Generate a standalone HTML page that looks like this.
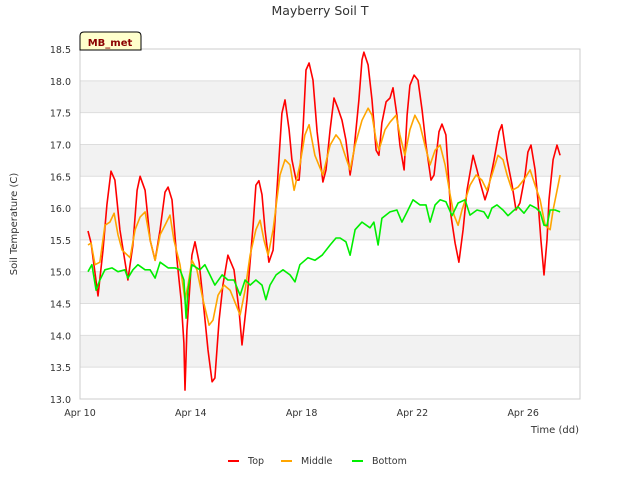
<!DOCTYPE html>
<html><head><meta charset="utf-8"><style>
body{margin:0;background:#fff;font-family:"Liberation Sans","DejaVu Sans",sans-serif}
svg text{font-family:"DejaVu Sans","Liberation Sans",sans-serif}
</style></head><body>
<svg id="chart" width="640" height="480" xmlns="http://www.w3.org/2000/svg">
<rect width="640" height="480" fill="#fff"/>
<text x="320" y="15" text-anchor="middle" font-size="12.5" fill="#333">Mayberry Soil T</text>
<g id="bands"></g><g id="grid"></g>
<rect x="80" y="49" width="500" height="350" fill="none" stroke="#ccc"/>
<g id="yticks"></g><g id="xticks"></g><g id="series"></g>
<text transform="translate(17,224) rotate(-90)" text-anchor="middle" font-size="10" fill="#333">Soil Temperature (C)</text>
<text x="579" y="433" text-anchor="end" font-size="10" fill="#333">Time (dd)</text>
<g>
<path d="M80,50 L80,36 Q80,32 84,32 L137,32 Q141,32 141,36 L141,50 Z" fill="#ffffcc" stroke="#000"/>
<text x="110" y="46" text-anchor="middle" font-size="10" font-weight="bold" fill="#8b0000">MB_met</text>
</g>
<g id="legend"></g>
</svg>
<script>
const yTicks=[13.0,13.5,14.0,14.5,15.0,15.5,16.0,16.5,17.0,17.5,18.0,18.5];
const xTickDays=[0,4,8,12,16];
const xTickLabels=["Apr 10","Apr 14","Apr 18","Apr 22","Apr 26"];
const seriesNames=["Top","Middle","Bottom"];
const seriesColors=["#ff0000","#ffa500","#00ee00"];
const topDays=[0.29,0.40,0.65,0.83,0.97,1.12,1.26,1.44,1.73,1.91,2.06,2.17,2.35,2.53,2.71,2.89,3.07,3.18,3.32,3.50,3.65,3.75,3.79,3.86,4.04,4.15,4.30,4.44,4.62,4.77,4.87,5.02,5.16,5.34,5.56,5.74,5.85,6.03,6.25,6.35,6.46,6.57,6.68,6.82,6.97,7.18,7.29,7.40,7.55,7.65,7.80,7.91,8.05,8.16,8.27,8.41,8.56,8.77,8.88,9.03,9.17,9.31,9.46,9.60,9.75,9.89,10.07,10.18,10.25,10.40,10.54,10.69,10.79,10.90,11.05,11.19,11.30,11.44,11.55,11.70,11.81,11.91,12.06,12.20,12.35,12.49,12.67,12.78,12.96,13.07,13.21,13.39,13.54,13.68,13.83,13.97,14.19,14.33,14.44,14.62,14.73,14.95,15.13,15.23,15.42,15.60,15.74,15.88,16.06,16.17,16.28,16.43,16.53,16.64,16.75,16.86,16.93,17.08,17.22,17.33];
const topValues=[15.64,15.45,14.62,15.34,16.05,16.58,16.44,15.66,14.87,15.42,16.28,16.50,16.28,15.50,15.18,15.66,16.25,16.33,16.13,15.18,14.56,13.88,13.14,14.08,15.26,15.47,15.15,14.56,13.77,13.27,13.33,14.24,14.79,15.26,15.03,14.40,13.85,14.56,15.73,16.36,16.43,16.21,15.66,15.15,15.34,16.76,17.49,17.70,17.23,16.76,16.44,16.44,17.23,18.17,18.28,18.01,17.20,16.41,16.60,17.23,17.73,17.57,17.38,17.07,16.52,16.91,17.70,18.33,18.45,18.25,17.70,16.91,16.83,17.34,17.67,17.73,17.89,17.46,16.99,16.60,17.46,17.93,18.09,18.01,17.54,16.99,16.44,16.52,17.20,17.32,17.15,15.89,15.45,15.15,15.66,16.28,16.83,16.60,16.41,16.13,16.28,16.76,17.20,17.31,16.76,16.36,15.97,16.08,16.50,16.88,16.99,16.60,16.13,15.50,14.95,15.50,16.13,16.76,16.99,16.83];
const midDays=[0.29,0.40,0.54,0.72,0.90,1.08,1.23,1.37,1.52,1.81,1.99,2.17,2.35,2.53,2.71,2.89,3.07,3.25,3.39,3.61,3.79,3.90,4.04,4.22,4.44,4.66,4.80,4.98,5.20,5.42,5.63,5.78,5.96,6.14,6.35,6.50,6.64,6.79,6.97,7.22,7.40,7.58,7.73,7.94,8.12,8.27,8.48,8.77,9.03,9.24,9.39,9.57,9.75,9.93,10.18,10.40,10.54,10.69,10.79,11.01,11.19,11.41,11.55,11.73,11.91,12.09,12.27,12.45,12.64,12.82,13.00,13.18,13.36,13.50,13.65,13.79,14.08,14.30,14.51,14.69,14.87,15.09,15.27,15.42,15.60,15.81,16.06,16.25,16.43,16.61,16.79,16.97,17.08,17.26,17.33];
const midValues=[15.42,15.45,15.11,15.15,15.73,15.78,15.92,15.58,15.34,15.22,15.66,15.86,15.94,15.50,15.18,15.58,15.73,15.89,15.50,15.11,14.56,14.79,15.18,15.03,14.56,14.16,14.24,14.63,14.79,14.71,14.48,14.32,14.71,15.26,15.66,15.81,15.50,15.26,15.66,16.52,16.76,16.68,16.28,16.68,17.15,17.31,16.83,16.52,16.99,17.15,17.07,16.83,16.60,16.99,17.38,17.57,17.46,17.07,16.91,17.23,17.35,17.46,17.15,16.83,17.23,17.46,17.31,16.99,16.68,16.91,16.99,16.68,16.21,15.89,15.73,15.97,16.36,16.52,16.44,16.28,16.52,16.83,16.76,16.52,16.28,16.33,16.47,16.60,16.36,16.13,15.73,15.66,15.97,16.36,16.52];
const botDays=[0.29,0.43,0.58,0.72,0.90,1.16,1.37,1.62,1.73,1.91,2.09,2.35,2.53,2.71,2.89,3.18,3.43,3.61,3.75,3.83,3.90,4.04,4.33,4.51,4.69,4.87,5.13,5.34,5.56,5.78,5.96,6.14,6.35,6.57,6.71,6.86,7.08,7.33,7.58,7.76,7.94,8.23,8.48,8.74,9.03,9.24,9.39,9.60,9.75,9.93,10.18,10.47,10.61,10.76,10.90,11.19,11.44,11.62,11.81,12.02,12.27,12.49,12.64,12.82,13.00,13.21,13.43,13.65,13.90,14.08,14.33,14.58,14.73,14.87,15.05,15.27,15.45,15.60,15.81,16.03,16.25,16.46,16.61,16.75,16.86,16.97,17.15,17.33];
const botValues=[15.00,15.11,14.71,14.87,15.03,15.06,15.00,15.03,14.90,15.03,15.11,15.03,15.03,14.90,15.15,15.06,15.06,15.03,14.87,14.27,14.71,15.11,15.03,15.11,14.95,14.79,14.95,14.87,14.87,14.63,14.87,14.79,14.87,14.79,14.56,14.79,14.95,15.03,14.95,14.84,15.11,15.22,15.18,15.26,15.42,15.53,15.53,15.47,15.26,15.66,15.78,15.69,15.78,15.42,15.84,15.94,15.97,15.78,15.94,16.13,16.05,16.05,15.78,16.05,16.13,16.10,15.88,16.08,16.13,15.89,15.97,15.94,15.84,16.00,16.05,15.97,15.88,15.94,16.02,15.92,16.05,16.00,15.94,15.73,15.73,15.97,15.97,15.94];

const NS="http://www.w3.org/2000/svg";
const X0=80,X1=580,Y0=399,Y1=49,DMIN=0,DMAX=18.05,VMIN=13,VMAX=18.5;
const xScale=d=>X0+(d-DMIN)/(DMAX-DMIN)*(X1-X0);
const yScale=v=>Y0-(v-VMIN)/(VMAX-VMIN)*(Y0-Y1);
function mk(tag,attrs,parent){const e=document.createElementNS(NS,tag);for(const k in attrs)e.setAttribute(k,attrs[k]);parent.appendChild(e);return e;}
const bands=document.getElementById('bands'),grid=document.getElementById('grid'),yt=document.getElementById('yticks'),xt=document.getElementById('xticks');
for(let i=0;i<yTicks.length-1;i++){
  if(i%2===1){const b=mk('rect',{x:X0,y:yScale(yTicks[i+1]),width:X1-X0,height:yScale(yTicks[i])-yScale(yTicks[i+1]),fill:'#f2f2f2'},bands);
  
  }
}
yTicks.forEach(v=>{
  const l=mk('line',{x1:X0,x2:X1,y1:yScale(v),y2:yScale(v),stroke:'#ddd'},grid);
  
  
  const t=mk('text',{x:71,y:yScale(v)+4,'text-anchor':'end','font-size':'9.5',fill:'#333'},yt);
  
  
  t.textContent=v.toFixed(1);
});
xTickDays.forEach((d,i)=>{
  const t=mk('text',{x:xScale(d),y:416,'text-anchor':'middle','font-size':'9.5',fill:'#333'},xt);
  
  
  t.textContent=xTickLabels[i];
});
const sg=document.getElementById('series');
[[topDays,topValues],[midDays,midValues],[botDays,botValues]].forEach((s,i)=>{
  const pts=s[0].map((d,j)=>xScale(d).toFixed(1)+','+yScale(s[1][j]).toFixed(1)).join(' ');
  const p=mk('polyline',{points:pts,fill:'none',stroke:seriesColors[i],'stroke-width':'1.6','stroke-linejoin':'round'},sg);
  
  
});
const lg=document.getElementById('legend');
const lx=[228,281,352];
seriesNames.forEach((n,i)=>{
  const g=mk('g',{},lg);
  
  
  mk('line',{x1:lx[i],x2:lx[i]+11,y1:461,y2:461,stroke:seriesColors[i],'stroke-width':'2'},g);
  const t=mk('text',{x:lx[i]+20,y:464,'font-size':'9.5',fill:'#333'},g);
  t.textContent=n;
});
</script>
</body></html>
